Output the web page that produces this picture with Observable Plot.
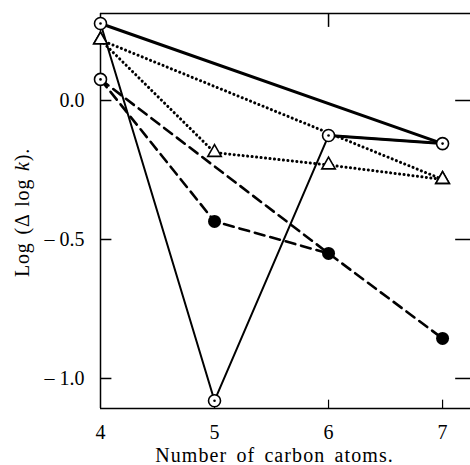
<!DOCTYPE html>
<html><head><meta charset="utf-8">
<script src="https://cdn.jsdelivr.net/npm/d3@7"></script>
<script src="https://cdn.jsdelivr.net/npm/@observablehq/plot@0.6"></script>
<style>body{margin:0;background:#fff}</style>
</head><body><div id="chart"></div>
<script>
// Data
const carbons = [4, 5, 6, 7];
const xTicks = [4, 5, 6, 7];
const yTicks = [0, -0.5, -1.0];
// thin solid, circle-dot markers
const solidThinX = [4, 5, 6, 7];
const solidThinY = [0.277, -1.08, -0.126, -0.155];
// thick solid, direct line
const solidThickX = [4, 7];
const solidThickY = [0.277, -0.155];
// dotted with triangles
const dotAX = [4, 5, 6, 7];
const dotAY = [0.218, -0.187, -0.232, -0.284];
const dotBX = [4, 7];
const dotBY = [0.218, -0.284];
// dashed with filled circles (first point open circle-dot)
const dashAX = [4, 5, 6];
const dashAY = [0.076, -0.435, -0.55];
const dashBX = [4, 6, 7];
const dashBY = [0.076, -0.55, -0.856];

const pts = (xs, ys) => xs.map((x, i) => ({x, y: ys[i]}));
const thin = pts(solidThinX, solidThinY);
const thick = pts(solidThickX, solidThickY);
const thickTail = thin.filter(d => d.x >= 6);
const dotA = pts(dotAX, dotAY), dotB = pts(dotBX, dotBY);
const dashA = pts(dashAX, dashAY), dashB = pts(dashBX, dashBY);
const circDot = [...thin, dashA[0]];
const filled = [...dashA.slice(1), dashB[2]];

const xDom = [4, 7.245], yDom = [-1.108, 0.313];
const font = "Liberation Serif, Times New Roman, serif";
const xTitle = "Number of carbon atoms.";
const yTitle = "Log (\u0394 log k).";

const plot = Plot.plot({
  width: 470, height: 465,
  marginLeft: 100, marginRight: 0, marginTop: 13, marginBottom: 57,
  x: {domain: xDom, axis: null},
  y: {domain: yDom, axis: null},
  style: {fontFamily: font, fontSize: "16px", background: "#fff", color: "#000"},
  marks: [
    // frame
    Plot.ruleX([4], {stroke: "#000", strokeWidth: 1.5}),
    Plot.ruleY([yDom[0]], {stroke: "#000", strokeWidth: 1.5}),
    Plot.ruleY([yDom[1]], {stroke: "#000", strokeWidth: 1.5}),
    Plot.ruleX([xDom[1]], {stroke: "#ccc", strokeWidth: 1}),
    // inward ticks
    Plot.ruleY(yTicks, {x1: 4, x2: 4.1, stroke: "#000", strokeWidth: 1.5}),
    Plot.ruleY(yTicks, {x1: xDom[1] - 0.13, x2: xDom[1], stroke: "#000", strokeWidth: 1.5}),
    Plot.ruleX(xTicks.slice(1), {y1: yDom[0], y2: yDom[0] + 0.03, stroke: "#000", strokeWidth: 1.2}),
    Plot.ruleX([6], {y1: yDom[1], y2: yDom[1] - 0.05, stroke: "#000", strokeWidth: 1.5}),
    // tick labels
    Plot.text(yTicks, {x: 4, y: d => d, text: d => d === 0 ? "0.0" : "\u2013 " + Math.abs(d).toFixed(1), textAnchor: "end", dx: -16, fontSize: 20}),
    Plot.text(xTicks, {x: d => d, y: yDom[0], text: d => String(d), dy: 24, fontSize: 20}),
    Plot.text([xTitle], {dy: 47, dx: 3, x: 5.5, y: yDom[0], fontSize: 20}),
    Plot.text([yTitle], {x: 4, y: -0.403, rotate: -90, dx: -78, fontSize: 20}),
    // lines
    Plot.line(thin, {x: "x", y: "y", stroke: "#000", strokeWidth: 2}),
    Plot.line(thick, {x: "x", y: "y", stroke: "#000", strokeWidth: 3}),
    Plot.line(thickTail, {x: "x", y: "y", stroke: "#000", strokeWidth: 3}),
    Plot.line(dotA, {x: "x", y: "y", stroke: "#000", strokeWidth: 3, strokeDasharray: "0.1,4.4", strokeLinecap: "round"}),
    Plot.line(dotB, {x: "x", y: "y", stroke: "#000", strokeWidth: 3, strokeDasharray: "0.1,4.4", strokeLinecap: "round"}),
    Plot.line(dashA, {x: "x", y: "y", stroke: "#000", strokeWidth: 2.6, strokeDasharray: "10,6"}),
    Plot.line(dashB, {x: "x", y: "y", stroke: "#000", strokeWidth: 2.6, strokeDasharray: "10,6"}),
    // markers
    Plot.dot([...dotA, ...dotB], {x: "x", y: "y", symbol: "triangle", r: 5, fill: "#fff", stroke: "#000", strokeWidth: 1.6}),
    Plot.dot(circDot, {x: "x", y: "y", r: 6, fill: "#fff", stroke: "#000", strokeWidth: 1.6}),
    Plot.dot(circDot, {x: "x", y: "y", r: 1.3, fill: "#000"}),
    Plot.dot(filled, {x: "x", y: "y", r: 6.5, fill: "#000"})
  ]
});
// italic k in y label, wider spacing on titles
d3.select(plot).selectAll("text").each(function() {
  const t = d3.select(this);
  const txt = t.text();
  if (txt === yTitle) {
    t.attr("letter-spacing", "0.8px").attr("word-spacing", "2px");
    const holder = t.select("tspan").empty() ? t : t.select("tspan");
    holder.text(null);
    holder.append("tspan").text("Log (\u0394 log ");
    holder.append("tspan").attr("font-style", "italic").text("k");
    holder.append("tspan").text(").");
  } else if (txt === xTitle) {
    t.attr("letter-spacing", "1.1px").attr("word-spacing", "3px");
  }
});
document.getElementById("chart").appendChild(plot);
</script></body></html>
